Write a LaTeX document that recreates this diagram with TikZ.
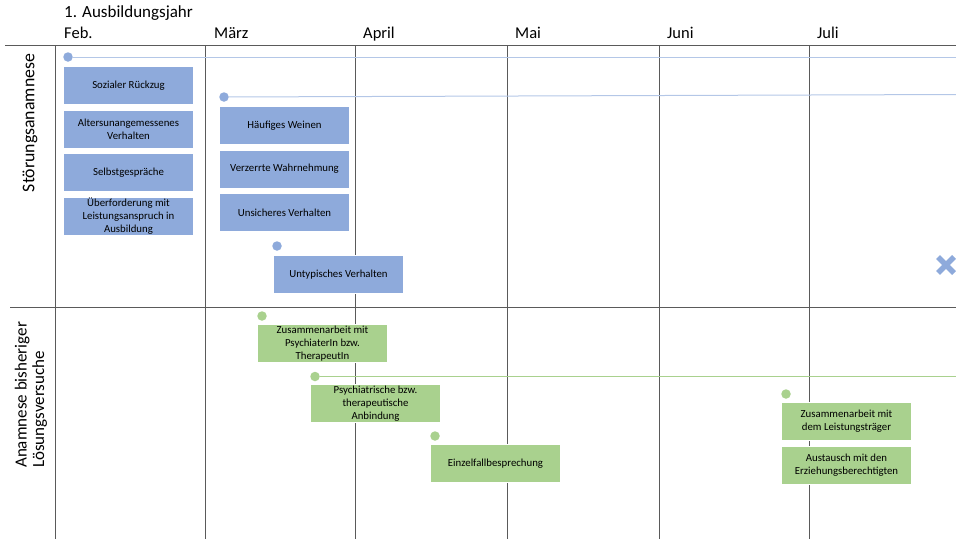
\documentclass[tikz,border=0pt]{standalone}
\usepackage{fontspec}
\setmainfont{Carlito}
\usetikzlibrary{calc,positioning}
\definecolor{symptomblue}{RGB}{142,170,219}
\definecolor{symptomline}{RGB}{180,199,231}
\definecolor{attemptgreen}{RGB}{169,209,142}
\definecolor{gridgray}{RGB}{90,90,90}

\begin{document}
\begin{tikzpicture}[x=1pt,y=-1pt,
 box/.style={draw=white,line width=1pt,minimum width=130pt,minimum height=38pt,
  inner sep=1pt,align=center,font=\fontsize{10.8}{13}\selectfont},
 bluebox/.style={box,fill=symptomblue},
 greenbox/.style={box,fill=attemptgreen},
 dot/.style={circle,inner sep=0pt,minimum size=9.5pt},
 month/.style={anchor=base west,inner sep=0pt,font=\fontsize{16.5}{20}\selectfont},
 rowlabel/.style={rotate=90,inner sep=0pt}]
 \useasboundingbox (0,0) rectangle (956,539);
 % grid
 \draw[gridgray,line width=1pt] (5,45)--(956,45) (10,307)--(956,307);
 \foreach \x in {55,205,355,507,659,809}
  {\draw[gridgray,line width=1pt] (\x,45)--(\x,539);}
 \node[month,font=\fontsize{17}{20}\selectfont] (year) at (64,17.5) {1. Ausbildungsjahr};
 \foreach \x/\m [count=\i] in {64/Feb.,214/März,363/April,515/Mai,667/Juni,817/Juli}
  {\node[month] (m\i) at (\x,38.5) {\m};}
 \node[rowlabel,font=\fontsize{17.8}{20}\selectfont] (rowA) at (30,123) {Störungsanamnese};
 \node[rowlabel,anchor=west,align=left,font=\fontsize{17}{17.5}\selectfont] (rowB) at (31,468)
  {Anamnese bisheriger\\Lösungsversuche};
 % Stoerungsanamnese
 \coordinate (endA) at (956,57); \coordinate (endB) at (956,94.5);
 \node[dot,fill=symptomblue] (sa) at (68,57) {};
 \node[dot,fill=symptomblue] (sb) at (224,97) {};
 \node[dot,fill=symptomblue] (sc) at (277,246) {};
 \draw[symptomline,line width=1pt] (sa)--(endA);
 \draw[symptomline,line width=1pt] (sb)--(endB);
 \node[bluebox,anchor=north west] (s1) at (63,66) {Sozialer Rückzug};
 \node[bluebox,below=4.5pt of s1] (s2) {Altersunangemessenes\\Verhalten};
 \node[bluebox,below=4.5pt of s2] (s3) {Selbstgespräche};
 \node[bluebox,below=4.5pt of s3] (s4) {Überforderung mit\\Leistungsanspruch in\\Ausbildung};
 \node[bluebox,anchor=north west] (s5) at (219,106) {Häufiges Weinen};
 \node[bluebox,below=4.5pt of s5] (s6) {Verzerrte Wahrnehmung};
 \node[bluebox,below=4.5pt of s6] (s7) {Unsicheres Verhalten};
 \node[bluebox,anchor=north west] (s8) at (273,255) {Untypisches Verhalten};
 \coordinate (stop) at (946,265);
 \draw[symptomblue,line width=5.5pt]
  ($(stop)+(-8,-8)$)--($(stop)+(8,8)$) ($(stop)+(-8,8)$)--($(stop)+(8,-8)$);
 % Loesungsversuche
 \coordinate (endC) at (956,376.5);
 \node[dot,fill=attemptgreen] (la) at (262,316) {};
 \node[dot,fill=attemptgreen] (lb) at (315,376.5) {};
 \node[dot,fill=attemptgreen] (lc) at (435,436) {};
 \node[dot,fill=attemptgreen] (ld) at (786,394) {};
 \draw[attemptgreen,line width=1pt] (lb)--(endC);
 \node[greenbox,anchor=north west] (l1) at (257,324) {Zusammenarbeit mit\\PsychiaterIn bzw.\\TherapeutIn};
 \node[greenbox,anchor=north west] (l2) at (310,384) {Psychiatrische bzw.\\therapeutische\\Anbindung};
 \node[greenbox,anchor=north west] (l3) at (430,444) {Einzelfallbesprechung};
 \node[greenbox,anchor=north west] (l4) at (781,402) {Zusammenarbeit mit\\dem Leistungsträger};
 \node[greenbox,below=4.5pt of l4] (l5) {Austausch mit den\\Erziehungsberechtigten};
\end{tikzpicture}
\end{document}
